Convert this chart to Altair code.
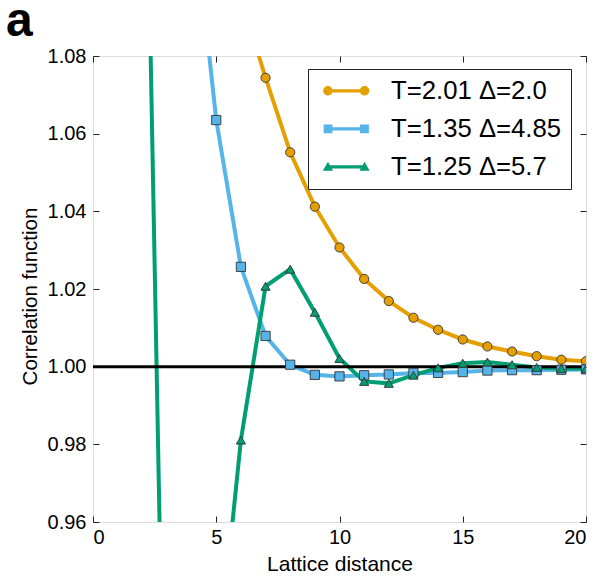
import altair as alt
import pandas as pd

# ---------------- data ----------------
distance = list(range(1, 21))
series_names = ["T=2.01 Δ=2.0", "T=1.35 Δ=4.85", "T=1.25 Δ=5.7"]
series_colors = ["#E69F00", "#56B4E9", "#009E73"]
marker_shapes = ["circle", "square", "triangle-up"]

corr_orange = [1.55, 1.35, 1.24, 1.17, 1.125, 1.095, 1.0744, 1.0552, 1.0412, 1.0307,
               1.0226, 1.0169, 1.0126, 1.0095, 1.0070, 1.0052, 1.0039, 1.0027, 1.0018, 1.0014]
corr_blue = [1.80, 1.45, 1.25, 1.122, 1.0635, 1.0257, 1.0079, 1.0005, 0.9979, 0.9975,
             0.9978, 0.9980, 0.9984, 0.9984, 0.9986, 0.9990, 0.9991, 0.9991, 0.9992, 0.9993]
corr_green = [1.50, 1.193, 0.86, 0.85, 0.919, 0.9811, 1.0207, 1.0251, 1.0140, 1.0021,
              0.9962, 0.9957, 0.9978, 0.9997, 1.0009, 1.0012, 1.0005, 0.9998, 0.9995, 0.9995]

x_ticks = [0, 5, 10, 15, 20]
y_ticks = [0.96, 0.98, 1.00, 1.02, 1.04, 1.06, 1.08]
reference_level = [1.0]
panel_label = ["a"]

# legend symbols: line segment with a marker at both ends (custom SVG paths)
legend_paths = [
    "M-1.2,-0.15L1.2,-0.15L1.2,0.15L-1.2,0.15Z"
    "M-2.04,0A0.42,0.42 0 1,1 -1.2,0A0.42,0.42 0 1,1 -2.04,0Z"
    "M1.2,0A0.42,0.42 0 1,1 2.04,0A0.42,0.42 0 1,1 1.2,0Z",
    "M-1.22,-0.15L1.22,-0.15L1.22,0.15L-1.22,0.15Z"
    "M-2.0,-0.38L-1.22,-0.38L-1.22,0.38L-2.0,0.38Z"
    "M1.22,-0.38L2.0,-0.38L2.0,0.38L1.22,0.38Z",
    "M-1.45,-0.15L1.45,-0.15L1.45,0.15L-1.45,0.15Z"
    "M-1.62,-0.45L-1.17,0.35L-2.07,0.35Z"
    "M1.62,-0.45L2.07,0.35L1.17,0.35Z",
]

rows = []
for name, vals in zip(series_names, [corr_orange, corr_blue, corr_green]):
    for d, v in zip(distance, vals):
        rows.append({"distance": d, "corr": v, "series": name})
df = pd.DataFrame(rows)
ref_df = pd.DataFrame({"level": reference_level})
label_df = pd.DataFrame({"label": panel_label})

# ---------------- layout ----------------
W, H = 493, 466
FONT = "Liberation Sans"

xscale = alt.Scale(domain=[0, 20], nice=False, zero=False)
yscale = alt.Scale(domain=[0.96, 1.08], nice=False, zero=False)
color_scale = alt.Scale(domain=series_names, range=series_colors)


def tick_axis(orient, offset, values):
    return alt.Axis(orient=orient, offset=offset, values=values, labels=False,
                    ticks=True, tickSize=6, tickColor="#222", tickWidth=1,
                    domain=False, grid=False, title=None)


x_main = alt.Axis(orient="bottom", offset=0, values=x_ticks, ticks=False, tickSize=0,
                  domain=False, grid=False, labelFont=FONT, labelFontSize=20,
                  labelColor="black", labelPadding=5.5, format="d",
                  title="Lattice distance", titleFont=FONT, titleFontSize=21,
                  titleFontWeight="normal", titleColor="black",
                  titleBaseline="alphabetic", titleY=48)
y_main = alt.Axis(orient="left", offset=0, values=y_ticks, ticks=False, tickSize=0,
                  domain=False, grid=False, labelFont=FONT, labelFontSize=20,
                  labelColor="black", labelPadding=7, format=".2f",
                  title="Correlation function", titleFont=FONT, titleFontSize=20.5,
                  titleFontWeight="normal", titleColor="black",
                  titleBaseline="alphabetic", titleX=-57, titleY=240)

lines = alt.Chart(df).mark_line(clip=True, strokeWidth=4).encode(
    x=alt.X("distance:Q", scale=xscale, axis=x_main),
    y=alt.Y("corr:Q", scale=yscale, axis=y_main),
    color=alt.Color("series:N", scale=color_scale, legend=None),
)

rule = alt.Chart(ref_df).mark_rule(color="black", strokeWidth=3).encode(
    y=alt.Y("level:Q", scale=yscale, axis=None)
)

points = alt.Chart(df).mark_point(filled=True, clip=True, opacity=1, stroke="#333",
                                  strokeWidth=0.9, size=85).encode(
    x=alt.X("distance:Q", scale=xscale, axis=tick_axis("top", -H, x_ticks)),
    y=alt.Y("corr:Q", scale=yscale, axis=tick_axis("right", -W, y_ticks)),
    fill=alt.Fill("series:N", scale=color_scale, legend=None),
    shape=alt.Shape("series:N", scale=alt.Scale(domain=series_names, range=marker_shapes),
                    legend=None),
)

legend_spec = alt.Legend(
    title=None, orient="none", legendX=215, legendY=13,
    padding=9, fillColor="white", strokeColor="#222", cornerRadius=0,
    symbolSize=511, symbolStrokeWidth=0, symbolOffset=16.4, labelOffset=32,
    labelFont=FONT, labelFontSize=25.7, labelColor="black", labelLimit=400,
    rowPadding=11,
)

# legend carrier: only the off-scale first points (fully clipped), gives the legend
legend_layer = alt.Chart(df).transform_filter(alt.datum.distance == 1).mark_point(
    filled=True, clip=True, opacity=1, size=85).encode(
    x=alt.X("distance:Q", scale=xscale, axis=tick_axis("bottom", -H, x_ticks)),
    y=alt.Y("corr:Q", scale=yscale, axis=tick_axis("left", -W, y_ticks)),
    fill=alt.Fill("series:N", scale=color_scale, legend=legend_spec),
    shape=alt.Shape("series:N", scale=alt.Scale(domain=series_names, range=legend_paths),
                    legend=legend_spec),
)

# panel letter "a" in the top-left corner
panel = alt.Chart(label_df).mark_text(
    font=FONT, fontSize=48, fontWeight="bold", color="black",
    align="left", baseline="alphabetic"
).encode(
    text="label:N",
    x=alt.value(-87),
    y=alt.value(-20.5),
)

chart = alt.layer(lines, rule, points, legend_layer, panel).resolve_axis(
    x="independent", y="independent"
).resolve_scale(
    fill="independent", shape="independent"
).properties(
    width=W, height=H,
    autosize=alt.AutoSizeParams(type="none"),
    padding={"left": 93, "top": 56, "right": 12, "bottom": 56},
).configure_view(stroke="#222", strokeWidth=1.3).configure(background="white")

chart.save("out.html", embed_options={"renderer": "svg", "actions": False})
